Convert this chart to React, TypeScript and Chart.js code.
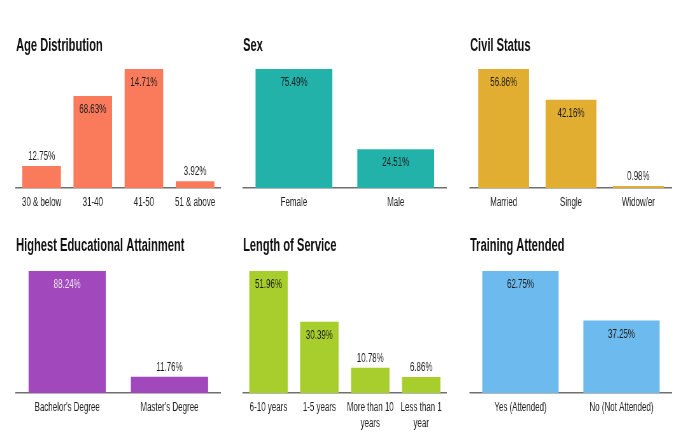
import React, { useEffect, useRef } from "react";
import { Chart, registerables } from "chart.js";

Chart.register(...registerables);

const FONT = "'Liberation Sans', Arial, sans-serif";
const SQUEEZE = 0.635; // horizontal condensing of each panel (reference uses a condensed face)

// ---------- data ----------
const ageCategories = ["30 & below", "31-40", "41-50", "51 & above"];
const ageBarValues = [12.75, 53.1, 68.63, 3.92];
const agePercentLabels = [12.75, 68.63, 14.71, 3.92];

const sexCategories = ["Female", "Male"];
const sexValues = [75.49, 24.51];

const civilCategories = ["Married", "Single", "Widow/er"];
const civilValues = [56.86, 42.16, 0.98];

const eduCategories = ["Bachelor's Degree", "Master's Degree"];
const eduValues = [88.24, 11.76];

const serviceCategories = [["6-10 years"], ["1-5 years"], ["More than 10", "years"], ["Less than 1", "year"]];
const serviceValues = [51.96, 30.39, 10.78, 6.86];

const trainingCategories = ["Yes (Attended)", "No (Not Attended)"];
const trainingValues = [62.75, 37.25];

type PanelProps = {
  title: string;
  categories: (string | string[])[];
  values: number[];
  percents: number[];
  color: string;
  insideColor: string;
  left: number;
  top: number;
  width: number;
  height: number;
  padLeft: number;
  padRight: number;
  titleTop: number;
  titleBottom: number;
  axisHeight: number;
};

function Panel(p: PanelProps) {
  const ref = useRef<HTMLCanvasElement | null>(null);
  useEffect(() => {
    if (!ref.current) return;
    const texts = p.percents.map((v) => v.toFixed(2) + "%");
    const valueLabels = {
      id: "valueLabels",
      afterDatasetsDraw(chart: any) {
        const ctx = chart.ctx;
        const meta = chart.getDatasetMeta(0);
        ctx.save();
        ctx.font = `12.5px ${FONT}`;
        ctx.textAlign = "center";
        ctx.textBaseline = "middle";
        meta.data.forEach((bar: any, i: number) => {
          const { x, y, base } = bar.getProps(["x", "y", "base"], true);
          const h = base - y;
          if (h > 30) {
            ctx.fillStyle = p.insideColor;
            ctx.fillText(texts[i], x, y + 13.5);
          } else {
            ctx.fillStyle = "#1c1c1c";
            ctx.fillText(texts[i], x, y - 9.5);
          }
        });
        ctx.restore();
      },
    };
    const chart = new Chart(ref.current, {
      type: "bar",
      data: {
        labels: p.categories as any,
        datasets: [
          {
            data: p.values,
            backgroundColor: p.color,
            borderWidth: 0,
            barPercentage: 0.755,
            categoryPercentage: 1,
          },
        ],
      },
      options: {
        animation: false,
        responsive: true,
        maintainAspectRatio: false,
        layout: { padding: { left: p.padLeft / SQUEEZE, right: p.padRight / SQUEEZE, top: 0, bottom: 0 } },
        plugins: {
          legend: { display: false },
          tooltip: { enabled: false },
          title: {
            display: true,
            text: p.title,
            align: "start",
            color: "#111",
            font: { family: FONT, size: 17.5, weight: "bold", lineHeight: 1.2 },
            padding: { top: p.titleTop, bottom: p.titleBottom },
          },
        },
        scales: {
          x: {
            offset: true,
            grid: { display: false, drawTicks: false },
            border: { display: true, color: "#6f6f6f", width: 1.6 },
            ticks: {
              color: "#222",
              font: { family: FONT, size: 12.5, lineHeight: 1.33 },
              padding: 6,
              maxRotation: 0,
              autoSkip: false,
            },
            afterFit: (s: any) => {
              s.height = p.axisHeight;
            },
          },
          y: {
            display: false,
            min: 0,
            max: Math.max(...p.values),
          },
        },
      },
      plugins: [valueLabels],
    });
    return () => chart.destroy();
  }, []);
  return (
    <div
      style={{
        position: "absolute",
        left: p.left,
        top: p.top,
        width: p.width / SQUEEZE,
        height: p.height,
        transform: `scaleX(${SQUEEZE})`,
        transformOrigin: "0 0",
      }}
    >
      <canvas ref={ref} />
    </div>
  );
}

export default function App() {
  const top = { top: 0, height: 222, titleTop: 35.5, titleBottom: 12.5, axisHeight: 34 };
  const bot = { top: 222, height: 223, titleTop: 13.5, titleBottom: 14.5, axisHeight: 52 };
  const c1 = { left: 0, width: 231, padLeft: 16, padRight: 11 };
  const c2 = { left: 231, width: 227, padLeft: 12, padRight: 12 };
  const c3 = { left: 458, width: 237, padLeft: 12, padRight: 23 };
  return (
    <div style={{ position: "absolute", left: 0, top: 0, width: 695, height: 445, background: "#fff", overflow: "hidden" }}>
      <Panel title="Age Distribution" categories={ageCategories} values={ageBarValues} percents={agePercentLabels}
        color="#FA7B5C" insideColor="#1c1c1c" {...top} {...c1} />
      <Panel title="Sex" categories={sexCategories} values={sexValues} percents={sexValues}
        color="#22B2AA" insideColor="#1c1c1c" {...top} {...c2} />
      <Panel title="Civil Status" categories={civilCategories} values={civilValues} percents={civilValues}
        color="#E2AE32" insideColor="#1c1c1c" {...top} {...c3} />
      <Panel title="Highest Educational Attainment" categories={eduCategories} values={eduValues} percents={eduValues}
        color="#A148BD" insideColor="#F3E8F7" {...bot} {...c1} />
      <Panel title="Length of Service" categories={serviceCategories} values={serviceValues} percents={serviceValues}
        color="#A8CE2E" insideColor="#1c1c1c" {...bot} {...c2} />
      <Panel title="Training Attended" categories={trainingCategories} values={trainingValues} percents={trainingValues}
        color="#6CBAEE" insideColor="#1c1c1c" {...bot} {...c3} />
    </div>
  );
}
